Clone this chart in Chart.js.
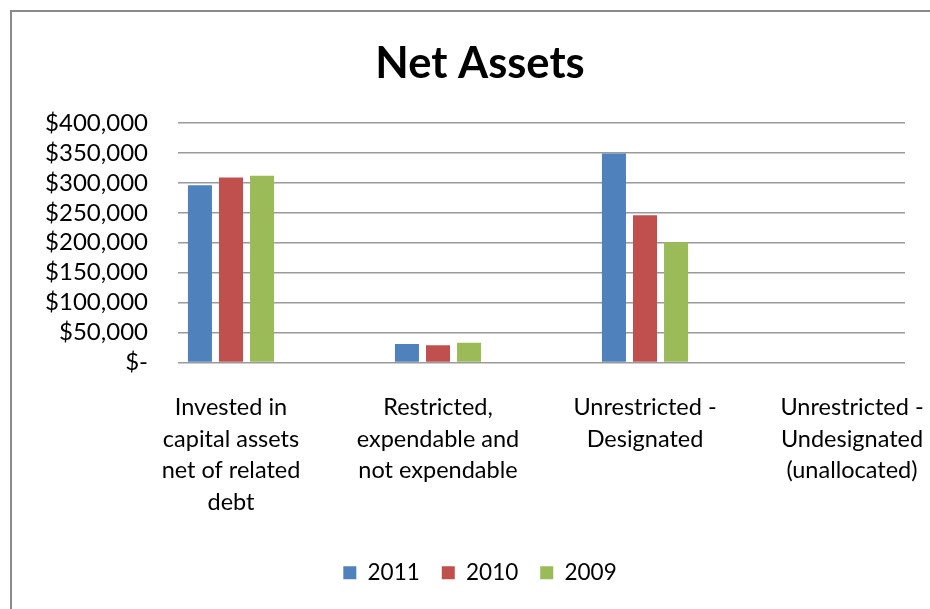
<!DOCTYPE html>
<html>
<head>
<meta charset="utf-8">
<script src="https://cdn.jsdelivr.net/npm/chart.js@4.4.0/dist/chart.umd.min.js"></script>
<style>
  html, body { margin: 0; padding: 0; background: #fff; overflow: hidden; }
  #wrap { position: relative; width: 930px; height: 609px; overflow: hidden; }
  #frame { position: absolute; left: 10px; top: 10px; width: 1000px; height: 700px; border: 2px solid #8a8a8a; box-sizing: border-box; pointer-events: none; }
  canvas { position: absolute; left: 0; top: 0; }
</style>
</head>
<body>
<div id="wrap">
  <canvas id="c" width="930" height="609"></canvas>
  <div id="frame"></div>
</div>
<script>
const categories = [
  ["Invested in", "capital assets", "net of related", "debt"],
  ["Restricted,", "expendable and", "not expendable"],
  ["Unrestricted -", "Designated"],
  ["Unrestricted -", "Undesignated", "(unallocated)"]
];
const seriesNames = ["2011", "2010", "2009"];
const values2011 = [296000, 31000, 349000, 0];
const values2010 = [309000, 29000, 246000, 0];
const values2009 = [312000, 33000, 201000, 0];
const seriesColors = ["#4F81BD", "#C0504D", "#9BBB59"];
const yTicks = [0, 50000, 100000, 150000, 200000, 250000, 300000, 350000, 400000];

const FONT = "Lato";
const toPoints = arr => arr.map((v, i) => ({ x: i, y: v }));
const allSeries = [values2011, values2010, values2009];

const fmt = v => v === 0 ? "$-" : "$" + v.toLocaleString("en-US");

new Chart(document.getElementById("c"), {
  type: "bar",
  data: {
    datasets: allSeries.map((vals, i) => ({
      label: seriesNames[i],
      data: toPoints(vals),
      backgroundColor: seriesColors[i],
      borderWidth: 0,
      categoryPercentage: 0.45,
      barPercentage: 0.774
    }))
  },
  options: {
    responsive: false,
    animation: false,
    layout: { padding: { left: 40, right: 10, top: 10, bottom: 15 } },
    plugins: {
      title: {
        display: true,
        text: "Net Assets",
        color: "#000",
        font: { family: FONT, size: 43.5, weight: "bold", lineHeight: 1.2 },
        padding: { top: 27.5, bottom: 33.3 }
      },
      legend: {
        position: "bottom",
        labels: {
          color: "#000",
          font: { family: FONT, size: 22.5 },
          boxWidth: 13,
          boxHeight: 13,
          padding: 22
        }
      },
      tooltip: { enabled: false }
    },
    scales: {
      x: {
        type: "linear",
        min: -0.256,
        max: 3.256,
        offset: false,
        grid: { display: false, drawTicks: false },
        border: { display: false },
        afterBuildTicks: s => { s.ticks = categories.map((c, i) => ({ value: i })); },
        afterFit: s => { s.paddingLeft = 0; s.paddingRight = 25; s.height = 177; },
        ticks: {
          autoSkip: false,
          maxRotation: 0,
          minRotation: 0,
          padding: 29,
          color: "#000",
          font: { family: FONT, size: 23.5, lineHeight: 1.35 },
          callback: v => categories[v]
        }
      },
      y: {
        min: 0,
        max: 400000,
        afterBuildTicks: s => { s.ticks = yTicks.map(v => ({ value: v })); },
        afterFit: s => { s.width = 138; s.paddingTop = 0; s.paddingBottom = 0; },
        grid: { color: "#9a9a9a", lineWidth: 1.5, drawTicks: false },
        border: { display: false },
        ticks: {
          autoSkip: false,
          padding: 30,
          color: "#000",
          font: { family: FONT, size: 24 },
          callback: v => fmt(v)
        }
      }
    }
  }
});
</script>
</body>
</html>
